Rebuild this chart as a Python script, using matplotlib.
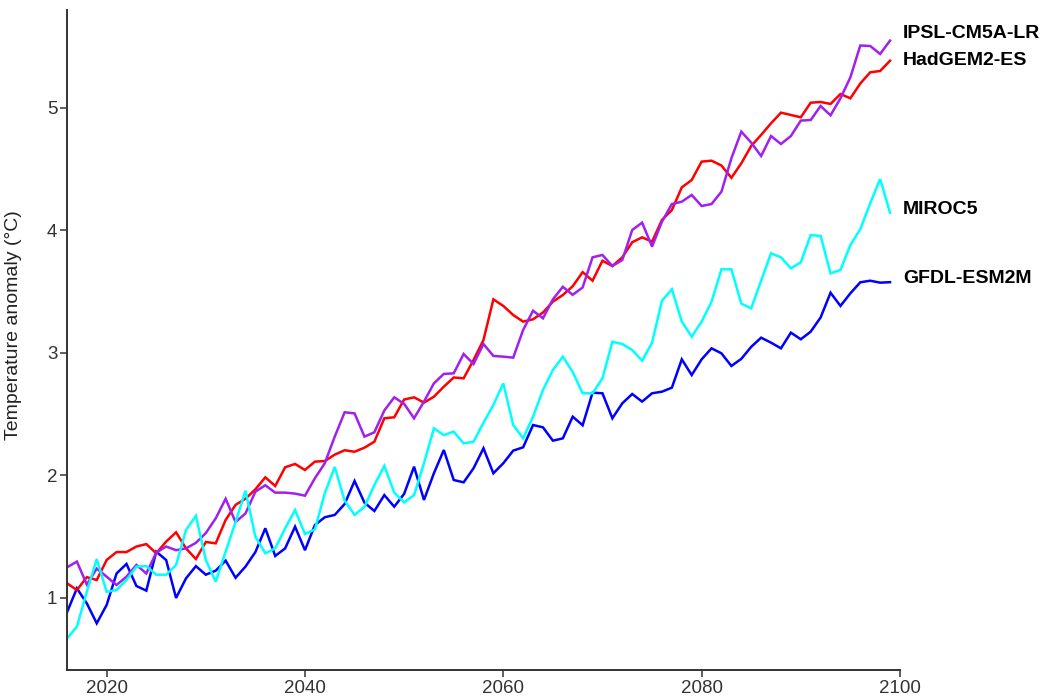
import matplotlib
matplotlib.use("Agg")
import matplotlib.pyplot as plt
import numpy as np

plt.rcParams["font.family"] = ["Liberation Sans", "DejaVu Sans"]

years = list(range(2016, 2100))

gfdl_esm2m = [
    0.883, 1.079, 0.956, 0.793, 0.943, 1.200, 1.278, 1.098, 1.060, 1.378,
    1.310, 1.000, 1.160, 1.260, 1.190, 1.223, 1.305, 1.165,
    1.256, 1.375, 1.569, 1.343, 1.405, 1.582, 1.390, 1.596, 1.659, 1.678,
    1.767, 1.955, 1.778, 1.710, 1.840, 1.745, 1.850,
    2.072, 1.800, 2.018, 2.208, 1.963, 1.944, 2.059, 2.222, 2.018, 2.100,
    2.203, 2.230, 2.412, 2.393, 2.284, 2.303, 2.480, 2.410,
    2.676, 2.671, 2.467, 2.589, 2.665, 2.603, 2.671, 2.684, 2.717, 2.948,
    2.820, 2.948, 3.038, 2.997, 2.894, 2.952,
    3.050, 3.125, 3.084, 3.038, 3.166, 3.112, 3.174, 3.290, 3.492, 3.384,
    3.487, 3.577, 3.590, 3.574, 3.578,
]

hadgem2_es = [
    1.120, 1.065, 1.170, 1.147, 1.310, 1.375, 1.375, 1.420, 1.440, 1.365,
    1.460, 1.536, 1.405, 1.318, 1.457, 1.446, 1.637, 1.760,
    1.810, 1.887, 1.985, 1.914, 2.067, 2.094, 2.045, 2.113, 2.118, 2.170,
    2.206, 2.194, 2.227, 2.276, 2.467, 2.475, 2.620,
    2.638, 2.595, 2.643, 2.725, 2.800, 2.793, 2.943, 3.106, 3.438, 3.384,
    3.310, 3.256, 3.275, 3.330, 3.419, 3.473, 3.545, 3.660,
    3.590, 3.753, 3.710, 3.781, 3.904, 3.944, 3.909, 4.086, 4.167, 4.352,
    4.412, 4.562, 4.570, 4.530, 4.430, 4.548,
    4.690, 4.780, 4.875, 4.962, 4.943, 4.924, 5.043, 5.049, 5.033, 5.114,
    5.079, 5.200, 5.291, 5.302, 5.386,
]

ipsl_cm5a_lr = [
    1.250, 1.297, 1.110, 1.240, 1.174, 1.106, 1.174, 1.270, 1.200, 1.370,
    1.420, 1.390, 1.405, 1.450, 1.530, 1.650, 1.810, 1.620,
    1.690, 1.868, 1.920, 1.860, 1.860, 1.852, 1.835, 1.977, 2.100, 2.317,
    2.516, 2.507, 2.317, 2.353, 2.530, 2.638, 2.585,
    2.467, 2.603, 2.752, 2.829, 2.834, 2.992, 2.910, 3.073, 2.976, 2.970,
    2.962, 3.188, 3.345, 3.283, 3.438, 3.540, 3.475, 3.535,
    3.781, 3.800, 3.710, 3.759, 4.004, 4.064, 3.868, 4.072, 4.216, 4.235,
    4.290, 4.200, 4.216, 4.317, 4.589, 4.807,
    4.717, 4.608, 4.771, 4.706, 4.771, 4.897, 4.902, 5.016, 4.940, 5.079,
    5.250, 5.510, 5.506, 5.441, 5.550,
]

miroc5 = [
    0.670, 0.766, 1.050, 1.318, 1.050, 1.065, 1.147, 1.256, 1.260, 1.190,
    1.190, 1.270, 1.555, 1.670, 1.310, 1.133, 1.378, 1.620,
    1.876, 1.500, 1.365, 1.405, 1.569, 1.718, 1.522, 1.560, 1.855, 2.070,
    1.795, 1.678, 1.745, 1.922, 2.078, 1.860, 1.780,
    1.840, 2.100, 2.385, 2.330, 2.358, 2.262, 2.276, 2.431, 2.576, 2.752,
    2.412, 2.303, 2.480, 2.698, 2.861, 2.970, 2.845, 2.671,
    2.671, 2.793, 3.092, 3.073, 3.024, 2.937, 3.084, 3.427, 3.520, 3.256,
    3.133, 3.256, 3.419, 3.683, 3.683, 3.403,
    3.365, 3.590, 3.814, 3.781, 3.691, 3.740, 3.963, 3.955, 3.650, 3.678,
    3.882, 4.010, 4.222, 4.420, 4.145,
]

model_names = ["GFDL-ESM2M", "HadGEM2-ES", "IPSL-CM5A-LR", "MIROC5"]
model_colors = ["#0000FF", "#FF0000", "#A020F0", "#00FFFF"]
model_series = [gfdl_esm2m, hadgem2_es, ipsl_cm5a_lr, miroc5]
# small vertical nudges so the end labels do not collide
label_nudge = [0.03, 0.0, 0.06, 0.03]

x_ticks = [2020, 2040, 2060, 2080, 2100]
y_ticks = [1, 2, 3, 4, 5]

fig = plt.figure(figsize=(10.45, 6.98), dpi=100)
ax = fig.add_axes([0.0641, 0.0401, 0.7971, 0.9456])

for name, color, values in zip(model_names, model_colors, model_series):
    ax.plot(years, values, color=color, lw=1.8, solid_joinstyle="miter")

for name, values, nudge in zip(model_names, model_series, label_nudge):
    ax.text(2100.3, values[-1] + nudge, name, ha="left", va="center",
            fontsize=14, fontweight="bold", color="black", clip_on=False)

ax.set_xlim(2016, 2100)
ax.set_ylim(0.412, 5.8)
ax.set_xticks(x_ticks)
ax.set_yticks(y_ticks)
ax.set_xticklabels([str(t) for t in x_ticks])
ax.set_yticklabels([str(t) for t in y_ticks])

for side in ("top", "right"):
    ax.spines[side].set_visible(False)
for side in ("left", "bottom"):
    ax.spines[side].set_color("#333333")
    ax.spines[side].set_linewidth(1.4)

ax.tick_params(axis="both", direction="out", length=5, width=1.1,
               color="#333333", labelsize=13.5, labelcolor="#333333", pad=2)
ax.set_ylabel("Temperature anomaly (\u00b0C)", fontsize=14, color="#222222")
ax.yaxis.set_label_coords(-0.054, 0.523)

fig.savefig("out.png", dpi=100)
